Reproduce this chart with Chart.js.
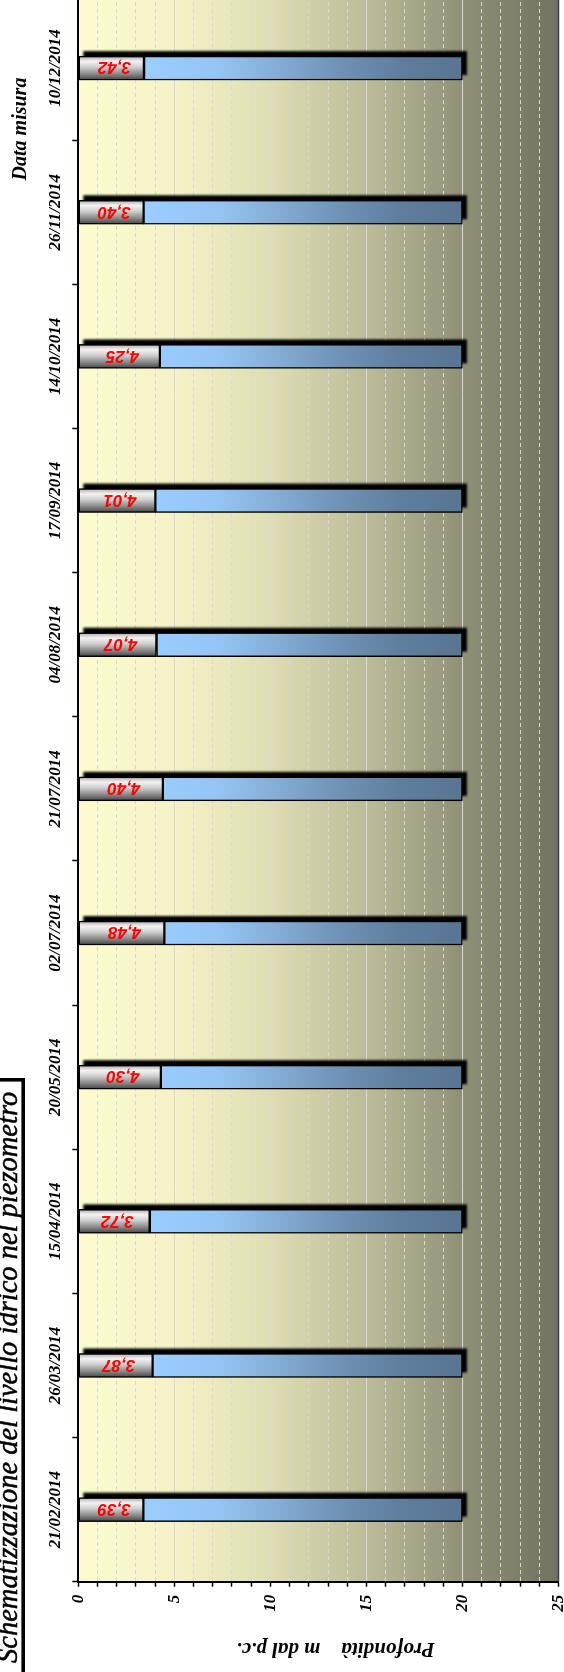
<!DOCTYPE html>
<html>
<head>
<meta charset="utf-8">
<script src="https://cdn.jsdelivr.net/npm/chart.js@4.4.1/dist/chart.umd.min.js"></script>
<style>
  html, body { margin: 0; padding: 0; background: #fff; overflow: hidden; width: 564px; height: 1672px; }
  /* the chart is drawn landscape and turned a quarter turn to fit the page */
  #wrap { position: absolute; left: 0; top: 0; width: 1680px; height: 564px;
          transform-origin: 0 0; transform: translate(0, 1672px) rotate(-90deg); }
</style>
</head>
<body>
<div id="wrap"><canvas id="chart" width="1680" height="564"></canvas></div>
<script>
// Data
const dates = ['21/02/2014', '26/03/2014', '15/04/2014', '20/05/2014', '02/07/2014', '21/07/2014',
               '04/08/2014', '17/09/2014', '14/10/2014', '26/11/2014', '10/12/2014'];
const waterDepth = [3.39, 3.87, 3.72, 4.30, 4.48, 4.40, 4.07, 4.01, 4.25, 3.40, 3.42];
const pipeBottom = [20, 20, 20, 20, 20, 20, 20, 20, 20, 20, 20];
const depthMin = 0;
const depthMax = 25;
const depthStep = 1;
const depthLabelEvery = 5;

const chartTitle = 'Schematizzazione del livello idrico nel piezometro';
const xTitle = 'Data misura';
const yTitle = 'Profondità    m dal p.c.';

const SERIF = "'Liberation Serif', 'Times New Roman', serif";
const SANS = "'Liberation Sans', Arial, sans-serif";

// gray "air" part of the pipe, shaded across the bar
function headColor(c) {
  const chart = c.chart;
  if (!chart.chartArea) return '#bbb';
  const xc = chart.scales.x.getPixelForValue(c.dataIndex);
  const g = chart.ctx.createLinearGradient(xc - 12, 0, xc + 12, 0);
  g.addColorStop(0, '#444');
  g.addColorStop(0.25, '#878787');
  g.addColorStop(0.55, '#d0d0d0');
  g.addColorStop(0.78, '#f2f2f2');
  g.addColorStop(0.92, '#c4c4c4');
  g.addColorStop(1, '#666');
  return g;
}

// water column, light blue to steel blue with depth
function tubeColor(c) {
  const chart = c.chart;
  if (!chart.chartArea) return '#7fa8d0';
  const y = chart.scales.y;
  const g = chart.ctx.createLinearGradient(0, y.getPixelForValue(4), 0, y.getPixelForValue(20));
  g.addColorStop(0, '#99ccff');
  g.addColorStop(0.2, '#95c5f5');
  g.addColorStop(0.4, '#84acd5');
  g.addColorStop(0.6, '#6f92b6');
  g.addColorStop(0.8, '#5f7e9e');
  g.addColorStop(1, '#587592');
  return g;
}

const plotBackground = {
  id: 'plotBackground',
  beforeDraw(chart) {
    const { ctx, chartArea: a } = chart;
    const g = ctx.createLinearGradient(0, a.top, 0, a.bottom);
    g.addColorStop(0, '#fcfccf');
    g.addColorStop(0.2, '#f4f2c6');
    g.addColorStop(0.4, '#dfddb3');
    g.addColorStop(0.6, '#bdbc9a');
    g.addColorStop(0.8, '#909077');
    g.addColorStop(1, '#71725f');
    ctx.save();
    ctx.fillStyle = g;
    ctx.fillRect(a.left, a.top, a.right - a.left, a.bottom - a.top);
    ctx.restore();
  },
  afterDraw(chart) {
    const { ctx, chartArea: a } = chart;
    ctx.save();
    ctx.strokeStyle = '#404040';
    ctx.lineWidth = 1.5;
    ctx.beginPath();
    ctx.moveTo(a.left, a.bottom);
    ctx.lineTo(a.right, a.bottom);
    ctx.stroke();
    ctx.restore();
  }
};

const barShadow = {
  id: 'barShadow',
  beforeDatasetsDraw(chart) {
    const head = chart.getDatasetMeta(0).data;
    const tube = chart.getDatasetMeta(1).data;
    const ctx = chart.ctx;
    ctx.save();
    ctx.fillStyle = '#000';
    ctx.filter = 'blur(0.8px)';
    head.forEach((el, i) => {
      const t = tube[i];
      const top = Math.min(el.y, el.base, t.y, t.base);
      const bottom = Math.max(el.y, el.base, t.y, t.base);
      ctx.fillRect(el.x - el.width / 2 + 5, top + 4.5, el.width, bottom - top);
    });
    ctx.restore();
  }
};

const depthLabels = {
  id: 'depthLabels',
  afterDatasetsDraw(chart) {
    const ctx = chart.ctx;
    ctx.save();
    ctx.font = 'italic bold 17px ' + SANS;
    ctx.fillStyle = '#ff0000';
    ctx.textAlign = 'center';
    ctx.textBaseline = 'middle';
    chart.getDatasetMeta(0).data.forEach((el, i) => {
      const cy = (el.y + el.base) / 2 + 3;
      ctx.save();
      ctx.translate(el.x, cy);
      ctx.rotate(-Math.PI / 2);
      ctx.fillText(waterDepth[i].toFixed(2).replace('.', ','), 0, 1);
      ctx.restore();
    });
    ctx.restore();
  }
};

const titles = {
  id: 'titles',
  afterDraw(chart) {
    const ctx = chart.ctx;
    ctx.save();
    // boxed title with shadow
    ctx.fillStyle = '#000';
    ctx.fillRect(-5, -10, 599, 35);
    ctx.fillStyle = '#fff';
    ctx.fillRect(-8, -13, 599, 35);
    ctx.strokeStyle = '#000';
    ctx.lineWidth = 1.2;
    ctx.strokeRect(-8, -13, 599, 35);
    ctx.fillStyle = '#000';
    ctx.font = 'italic 28.5px ' + SERIF;
    ctx.textAlign = 'left';
    ctx.textBaseline = 'alphabetic';
    ctx.fillText(chartTitle, 9, 16.5);
    ctx.lineWidth = 0.5;
    ctx.strokeText(chartTitle, 9, 16.5);

    ctx.font = 'italic bold 20px ' + SERIF;
    ctx.textAlign = 'center';
    ctx.textBaseline = 'middle';
    ctx.fillText(xTitle, 1543, 21);

    ctx.font = 'italic bold 21px ' + SERIF;
    ctx.translate(23, 335.5);
    ctx.rotate(-Math.PI / 2);
    ctx.fillText(yTitle, 0, 1);
    ctx.restore();
  }
};

const tickFont = { family: SERIF, size: 17, style: 'italic', weight: 'bold' };

new Chart(document.getElementById('chart'), {
  type: 'bar',
  data: {
    labels: dates,
    datasets: [
      {
        label: 'Soggiacenza',
        data: waterDepth.map(d => [depthMin, d]),
        backgroundColor: headColor,
        borderColor: '#000',
        borderWidth: 1.5,
        borderSkipped: false,
        barThickness: 24,
        grouped: false
      },
      {
        label: 'Colonna d\'acqua',
        data: waterDepth.map((d, i) => [d, pipeBottom[i]]),
        backgroundColor: tubeColor,
        borderColor: '#000',
        borderWidth: 1.5,
        borderSkipped: false,
        barThickness: 24,
        grouped: false
      }
    ]
  },
  options: {
    responsive: false,
    animation: false,
    devicePixelRatio: 1,
    layout: { padding: { left: 0, top: 0, right: 4, bottom: 5.5 } },
    plugins: {
      legend: { display: false },
      title: { display: false },
      tooltip: { enabled: false }
    },
    scales: {
      x: {
        position: 'top',
        offset: true,
        grid: { offset: true, drawOnChartArea: false, tickLength: 6, tickColor: '#000', tickWidth: 1.5 },
        border: { color: '#000', width: 2 },
        ticks: { font: tickFont, color: '#000', padding: 6, autoSkip: false, maxRotation: 0 },
        afterFit(scale) {
          scale.height = 78.3;
          scale.paddingLeft = 0;
          scale.paddingRight = 0;
        }
      },
      y: {
        reverse: true,
        min: depthMin,
        max: depthMax,
        grid: {
          color: '#d8d8d8',
          lineWidth: 1,
          tickLength: 5,
          tickColor: '#000',
          tickWidth: 1.5
        },
        border: {
          color: '#000',
          width: 2,
          dash: c => (c.tick && c.tick.value % depthLabelEvery !== 0 ? [4, 3] : [])
        },
        ticks: {
          stepSize: depthStep,
          autoSkip: false,
          font: tickFont,
          color: '#000',
          padding: 8,
          callback: v => (v % depthLabelEvery === 0 ? v : '')
        },
        afterFit(scale) {
          scale.width = 90.3;
          scale.paddingTop = 0;
          scale.paddingBottom = 0;
        }
      }
    }
  },
  plugins: [plotBackground, barShadow, depthLabels, titles]
});
</script>
</body>
</html>
